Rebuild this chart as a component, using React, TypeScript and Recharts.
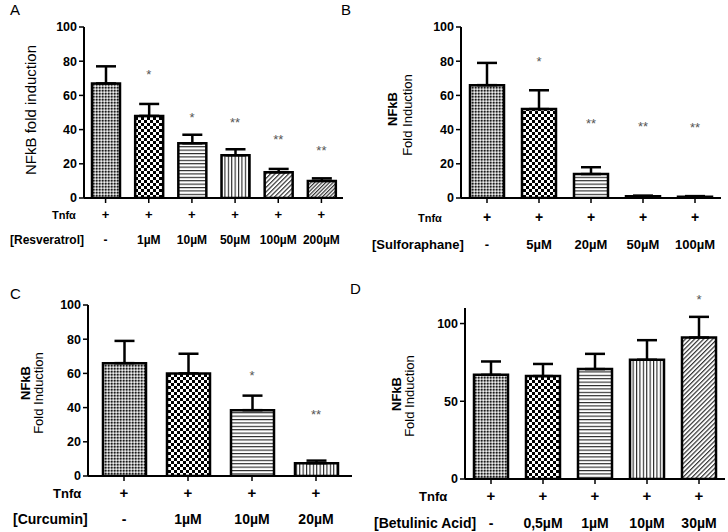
import React from "react";
import {
  BarChart,
  Bar,
  Cell,
  XAxis,
  YAxis,
  ErrorBar,
  ReferenceDot,
} from "recharts";

// Panel A - Resveratrol
const resveratrolDoses = ["-", "1µM", "10µM", "50µM", "100µM", "200µM"];
const resveratrolMean = [67, 48, 32, 25, 15, 10];
const resveratrolSem = [10, 7, 5, 3.5, 2, 1.5];
const resveratrolStars = ["", "*", "*", "**", "**", "**"];
const resveratrolStarAt = [0, 73.5, 48.4, 45.5, 35.8, 29];

// Panel B - Sulforaphane
const sulforaphaneDoses = ["-", "5µM", "20µM", "50µM", "100µM"];
const sulforaphaneMean = [66, 52, 14, 1, 0.8];
const sulforaphaneSem = [13, 11, 4, 0.4, 0.3];
const sulforaphaneStars = ["", "*", "**", "**", "**"];
const sulforaphaneStarAt = [0, 81.5, 45, 43, 42.6];

// Panel C - Curcumin
const curcuminDoses = ["-", "1µM", "10µM", "20µM"];
const curcuminMean = [66, 60, 38.5, 7.5];
const curcuminSem = [13, 11.5, 8.5, 1.5];
const curcuminStars = ["", "", "*", "**"];
const curcuminStarAt = [0, 0, 60, 37.7];

// Panel D - Betulinic acid
const betulinicDoses = ["-", "0,5µM", "1µM", "10µM", "30µM"];
const betulinicMean = [67, 66.2, 70.7, 76.7, 91];
const betulinicSem = [8.6, 7.8, 9.8, 12.6, 13.3];
const betulinicStars = ["", "", "", "", "*"];
const betulinicStarAt = [0, 0, 0, 0, 117];

const ticks100 = [0, 20, 40, 60, 80, 100];
const ticksD = [0, 50, 100];

const FONT = "'Liberation Sans', Arial, sans-serif";

const fillsA = ["fine", "checker", "hlines", "vlines", "diag", "diag2"];
const fillsB = ["fine", "checker", "hlines", "vlines", "diag"];
const fillsC = ["fine", "checker", "hlines", "vlines"];
const fillsD = ["fine", "checker", "hlines", "vlines", "diag"];

function build(doses: string[], mean: number[], sem: number[]) {
  return doses.map((d, i) => ({ dose: d, value: mean[i], err: [0, sem[i]] }));
}

function Patterns({ p }: { p: string }) {
  return (
    <defs>
      <pattern id={p + "fine"} width="3" height="3" patternUnits="userSpaceOnUse">
        <rect width="3" height="3" fill="#a0a0a0" />
        <rect width="1.5" height="1.5" fill="#1a1a1a" />
        <rect x="1.5" y="1.5" width="1.5" height="1.5" fill="#eee" />
      </pattern>
      <pattern id={p + "checker"} width="6" height="6" patternUnits="userSpaceOnUse">
        <rect width="6" height="6" fill="#fff" />
        <rect width="3" height="3" fill="#000" />
        <rect x="3" y="3" width="3" height="3" fill="#000" />
      </pattern>
      <pattern id={p + "hlines"} width="4" height="3.4" patternUnits="userSpaceOnUse">
        <rect width="4" height="3.4" fill="#fff" />
        <rect width="4" height="1.1" fill="#222" />
      </pattern>
      <pattern id={p + "vlines"} width="3.4" height="4" patternUnits="userSpaceOnUse">
        <rect width="3.4" height="4" fill="#fff" />
        <rect width="1.1" height="4" fill="#222" />
      </pattern>
      <pattern id={p + "diag"} width="3.2" height="3.2" patternUnits="userSpaceOnUse" patternTransform="rotate(45)">
        <rect width="3.2" height="3.2" fill="#fff" />
        <rect width="1.2" height="3.2" fill="#333" />
      </pattern>
      <pattern id={p + "diag2"} width="2.6" height="2.6" patternUnits="userSpaceOnUse" patternTransform="rotate(45)">
        <rect width="2.6" height="2.6" fill="#fff" />
        <rect width="1.2" height="2.6" fill="#333" />
      </pattern>
    </defs>
  );
}

const rowStyle = { fontFamily: FONT, fontWeight: 700, fill: "#000" };

function makeTick(plusDy: number, labelDy: number, fs: number) {
  return (props: any) => {
    const { x, y, payload } = props;
    return (
      <g>
        <text x={x} y={y + plusDy} textAnchor="middle" fontSize={fs + 1} style={rowStyle}>+</text>
        <text x={x} y={y + labelDy} textAnchor="middle" fontSize={fs} style={rowStyle}>
          {payload.value}
        </text>
      </g>
    );
  };
}

function starShape(text: string) {
  return (p: any) => (
    <text x={p.cx} y={p.cy + 7} textAnchor="middle" fontSize={13} fill="#555" style={{ fontFamily: FONT }}>
      {text}
    </text>
  );
}

interface PanelProps {
  id: string;
  left: number;
  top: number;
  doses: string[];
  mean: number[];
  sem: number[];
  stars: string[];
  starAt: number[];
  fills: string[];
  margin: { top: number; right: number; bottom: number; left: number };
  yWidth: number;
  barSize: number;
  pad: number;
  domain: [number, number];
  ticks: number[];
  plusDy: number;
  labelDy: number;
  rowFs: number;
  rowLabels: { text: string; x: number; y: number; size: number }[];
  yLabels: { text: string; x: number; y: number; size: number; bold: boolean }[];
  letters: { text: string; x: number; y: number }[];
}

function Panel(props: PanelProps) {
  const data = build(props.doses, props.mean, props.sem);
  const { top, right, bottom, left } = props.margin;
  return (
    <div style={{ position: "absolute", left: props.left, top: props.top }}>
      <BarChart width={364} height={266} data={data} margin={{ top, right, bottom: 0, left }}>
        <Patterns p={props.id} />
        <XAxis
          dataKey="dose"
          height={bottom}
          axisLine={{ stroke: "#000", strokeWidth: 2 }}
          tickLine={{ stroke: "#000", strokeWidth: 1.5 }}
          tickSize={5}
          tickMargin={0}
          interval={0}
          padding={{ left: props.pad, right: props.pad }}
          tick={makeTick(props.plusDy, props.labelDy, props.rowFs)}
        />
        <YAxis
          width={props.yWidth}
          domain={props.domain}
          ticks={props.ticks}
          interval={0}
          allowDataOverflow
          axisLine={{ stroke: "#000", strokeWidth: 2 }}
          tickLine={{ stroke: "#000", strokeWidth: 1.5 }}
          tickSize={5}
          tickMargin={2}
          tick={{ fill: "#000", fontSize: 12.5, fontWeight: 700, fontFamily: FONT }}
        />
        <Bar dataKey="value" barSize={props.barSize} stroke="#000" strokeWidth={2.5} isAnimationActive={false}>
          {data.map((d, i) => (
            <Cell key={d.dose} fill={`url(#${props.id}${props.fills[i]})`} />
          ))}
          <ErrorBar dataKey="err" direction="y" width={10} stroke="#000" strokeWidth={2.5} />
        </Bar>
        {props.stars.map((s, i) =>
          s ? (
            <ReferenceDot
              key={"s" + i}
              x={props.doses[i]}
              y={props.starAt[i]}
              r={0}
              ifOverflow="visible"
              shape={starShape(s)}
            />
          ) : null
        )}
        {props.rowLabels.map((r) => (
          <text key={r.text} x={r.x} y={r.y} fontSize={r.size} style={rowStyle}>
            {r.text}
          </text>
        ))}
        {props.yLabels.map((l) => (
          <text
            key={l.text}
            x={l.x}
            y={l.y}
            textAnchor="middle"
            dominantBaseline="central"
            transform={`rotate(-90, ${l.x}, ${l.y})`}
            fontSize={l.size}
            fontWeight={l.bold ? 700 : 400}
            style={{ fontFamily: FONT, fill: "#000" }}
          >
            {l.text}
          </text>
        ))}
        {props.letters.map((l) => (
          <text key={l.text} x={l.x} y={l.y} fontSize={15} style={{ fontFamily: FONT, fill: "#000" }}>
            {l.text}
          </text>
        ))}
      </BarChart>
    </div>
  );
}

export default function App() {
  return (
    <div style={{ position: "absolute", left: 0, top: 0, width: 728, height: 532, background: "#fff", overflow: "hidden" }}>
      <Panel
        id="a"
        left={0}
        top={0}
        doses={resveratrolDoses}
        mean={resveratrolMean}
        sem={resveratrolSem}
        stars={resveratrolStars}
        starAt={resveratrolStarAt}
        fills={fillsA}
        margin={{ top: 27, right: 21, bottom: 68, left: 0 }}
        yWidth={84}
        barSize={28}
        pad={0}
        domain={[0, 100]}
        ticks={ticks100}
        plusDy={16}
        labelDy={41}
        rowFs={12}
        rowLabels={[
          { text: "Tnfα", x: 52, y: 219, size: 11 },
          { text: "[Resveratrol]", x: 10, y: 244, size: 12 },
        ]}
        yLabels={[{ text: "NFkB fold induction", x: 30, y: 110, size: 15, bold: false }]}
        letters={[
          { text: "A", x: 10, y: 15 },
          { text: "B", x: 341, y: 15 },
        ]}
      />
      <Panel
        id="b"
        left={364}
        top={0}
        doses={sulforaphaneDoses}
        mean={sulforaphaneMean}
        sem={sulforaphaneSem}
        stars={sulforaphaneStars}
        starAt={sulforaphaneStarAt}
        fills={fillsB}
        margin={{ top: 27, right: 7, bottom: 68, left: 0 }}
        yWidth={97}
        barSize={34}
        pad={0}
        domain={[0, 100]}
        ticks={ticks100}
        plusDy={19}
        labelDy={46}
        rowFs={13}
        rowLabels={[
          { text: "Tnfα", x: 54, y: 222, size: 11 },
          { text: "[Sulforaphane]", x: 8, y: 249, size: 13 },
        ]}
        yLabels={[
          { text: "NFkB", x: 28, y: 109, size: 13, bold: true },
          { text: "Fold Induction", x: 43, y: 115, size: 13, bold: false },
        ]}
        letters={[]}
      />
      <Panel
        id="c"
        left={0}
        top={266}
        doses={curcuminDoses}
        mean={curcuminMean}
        sem={curcuminSem}
        stars={curcuminStars}
        starAt={curcuminStarAt}
        fills={fillsC}
        margin={{ top: 39, right: 12, bottom: 56, left: 0 }}
        yWidth={88}
        barSize={43}
        pad={4}
        domain={[0, 100]}
        ticks={ticks100}
        plusDy={17}
        labelDy={43}
        rowFs={14}
        rowLabels={[
          { text: "Tnfα", x: 53, y: 232, size: 13 },
          { text: "[Curcumin]", x: 13, y: 258, size: 14 },
        ]}
        yLabels={[
          { text: "NFkB", x: 25, y: 117, size: 13, bold: true },
          { text: "Fold Induction", x: 38, y: 127, size: 13, bold: false },
        ]}
        letters={[
          { text: "C", x: 10, y: 33 },
          { text: "D", x: 350, y: 28 },
        ]}
      />
      <Panel
        id="d"
        left={364}
        top={266}
        doses={betulinicDoses}
        mean={betulinicMean}
        sem={betulinicSem}
        stars={betulinicStars}
        starAt={betulinicStarAt}
        fills={fillsD}
        margin={{ top: 42, right: 3, bottom: 53, left: 0 }}
        yWidth={101}
        barSize={34}
        pad={0}
        domain={[0, 110]}
        ticks={ticksD}
        plusDy={17}
        labelDy={44}
        rowFs={14}
        rowLabels={[
          { text: "Tnfα", x: 55, y: 235, size: 13 },
          { text: "[Betulinic Acid]", x: 10, y: 262, size: 14 },
        ]}
        yLabels={[
          { text: "NFkB", x: 32, y: 128, size: 13, bold: true },
          { text: "Fold Induction", x: 45, y: 130, size: 13, bold: false },
        ]}
        letters={[]}
      />
    </div>
  );
}
